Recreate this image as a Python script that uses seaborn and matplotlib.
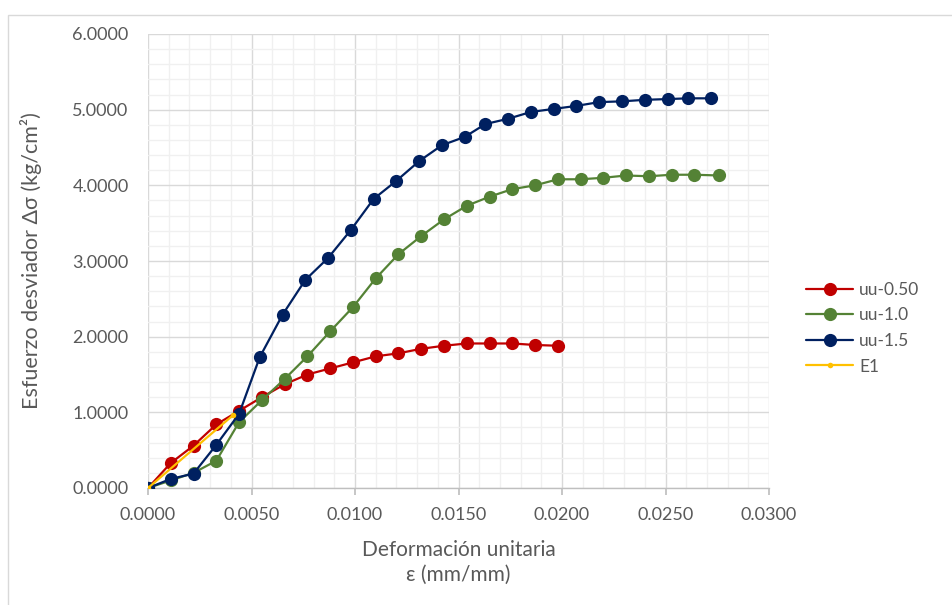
import matplotlib
matplotlib.use("Agg")
import matplotlib.pyplot as plt
from matplotlib.patches import Rectangle
from matplotlib.ticker import MultipleLocator, FormatStrFormatter
import seaborn as sns
import pandas as pd

# Strain (mm/mm) and deviator stress (kg/cm2) for each triaxial UU test
strain_050 = [0.0000, 0.0011, 0.0022, 0.0033, 0.0044, 0.0055, 0.0066, 0.0077,
              0.0088, 0.0099, 0.0110, 0.0121, 0.0132, 0.0143, 0.0154, 0.0165,
              0.0176, 0.0187, 0.0198]
stress_050 = [0.00, 0.33, 0.56, 0.84, 1.02, 1.20, 1.37, 1.50, 1.58, 1.66,
              1.74, 1.78, 1.84, 1.88, 1.91, 1.91, 1.91, 1.89, 1.88]

strain_10 = [0.0000, 0.0011, 0.0022, 0.0033, 0.0044, 0.0055, 0.0066, 0.0077,
             0.0088, 0.0099, 0.0110, 0.0121, 0.0132, 0.0143, 0.0154, 0.0165,
             0.0176, 0.0187, 0.0198, 0.0209, 0.0220, 0.0231, 0.0242, 0.0253,
             0.0264, 0.0276]
stress_10 = [0.00, 0.10, 0.20, 0.36, 0.87, 1.16, 1.44, 1.74, 2.07, 2.39,
             2.77, 3.09, 3.33, 3.55, 3.73, 3.85, 3.95, 4.00, 4.08, 4.08,
             4.10, 4.13, 4.12, 4.14, 4.14, 4.13]

strain_15 = [0.0000, 0.0011, 0.0022, 0.0033, 0.0044, 0.0054, 0.0065, 0.0076,
             0.0087, 0.0098, 0.0109, 0.0120, 0.0131, 0.0142, 0.0153, 0.0163,
             0.0174, 0.0185, 0.0196, 0.0207, 0.0218, 0.0229, 0.0240, 0.0251,
             0.0261, 0.0272]
stress_15 = [0.00, 0.12, 0.19, 0.57, 0.98, 1.73, 2.29, 2.75, 3.04, 3.41,
             3.82, 4.06, 4.32, 4.53, 4.64, 4.81, 4.88, 4.97, 5.01, 5.05,
             5.10, 5.11, 5.13, 5.14, 5.15, 5.15]

strain_e1 = [0.0000, 0.0041]
stress_e1 = [0.00, 0.96]

series_names = ["uu-0.50", "uu-1.0", "uu-1.5", "E1"]
series_colors = ["#C00000", "#548235", "#002060", "#FFC000"]

frames = []
for name, xs, ys in zip(series_names,
                        [strain_050, strain_10, strain_15, strain_e1],
                        [stress_050, stress_10, stress_15, stress_e1]):
    frames.append(pd.DataFrame({"strain": xs, "stress": ys, "serie": name}))
data = pd.concat(frames, ignore_index=True)

sns.set_theme(style="white")
plt.rcParams["font.family"] = ["Lato", "DejaVu Sans"]
text_color = "#595959"

fig = plt.figure(figsize=(9.52, 6.05), dpi=100)
ax = fig.add_axes([148 / 952, 1 - 488 / 605, (769 - 148) / 952, (488 - 34) / 605])

# Chart frame
fig.patches.append(Rectangle((8 / 952, -0.05), 1.1, 1 - 15 / 605 + 0.05,
                             transform=fig.transFigure, fill=False,
                             edgecolor="#D9D9D9", linewidth=1.0, zorder=0))

for name, color in zip(series_names, series_colors):
    sub = data[data["serie"] == name]
    small = name == "E1"
    sns.lineplot(data=sub, x="strain", y="stress", ax=ax, color=color,
                 sort=False, estimator=None, marker="o",
                 markersize=4 if small else 9.5, markeredgewidth=0,
                 linewidth=1.6, label=name, zorder=3 if not small else 4)

ax.set_xlim(0, 0.03)
ax.set_ylim(0, 6)
ax.xaxis.set_major_locator(MultipleLocator(0.005))
ax.xaxis.set_minor_locator(MultipleLocator(0.001))
ax.yaxis.set_major_locator(MultipleLocator(1.0))
ax.yaxis.set_minor_locator(MultipleLocator(0.2))
ax.xaxis.set_major_formatter(FormatStrFormatter("%.4f"))
ax.yaxis.set_major_formatter(FormatStrFormatter("%.4f"))

ax.grid(which="major", color="#D9D9D9", linewidth=1.0)
ax.grid(which="minor", color="#F0F0F0", linewidth=1.0)
ax.set_axisbelow(True)

for side in ["top", "right", "left"]:
    ax.spines[side].set_visible(False)
ax.spines["bottom"].set_color("#BFBFBF")
ax.spines["bottom"].set_linewidth(1.0)

ax.tick_params(axis="x", which="major", direction="out", length=5,
               color="#BFBFBF", labelsize=13, labelcolor=text_color, pad=9,
               bottom=True)
ax.tick_params(axis="x", which="minor", length=0)
ax.tick_params(axis="y", which="both", length=0, labelsize=13,
               labelcolor=text_color, pad=14)

ax.set_xlabel("Deformación unitaria\nε (mm/mm)", fontsize=15,
              color=text_color, labelpad=12, linespacing=1.3)
ax.set_ylabel("Esfuerzo desviador Δσ (kg/cm²)", fontsize=15.5,
              color=text_color, labelpad=22)

leg = ax.legend(loc="center left", bbox_to_anchor=(1.035, 0.352),
                frameon=False, fontsize=12.5, handlelength=2.7,
                labelspacing=0.55, handletextpad=0.35)
for t in leg.get_texts():
    t.set_color(text_color)

fig.savefig("out.png", dpi=100)
